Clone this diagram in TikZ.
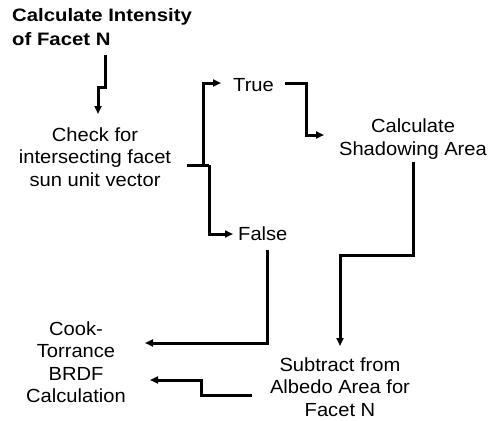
\documentclass[tikz,border=0pt]{standalone}
\usepackage{fontspec}
\setmainfont{Liberation Sans}[FakeStretch=1.06]
\newfontfamily\ttlfont{Liberation Sans}[FakeStretch=1.13]
\usetikzlibrary{arrows.meta}
\tikzset{
  lbl/.style={inner sep=0pt, align=center, font=\fontsize{19}{22.5}\selectfont},
  ttl/.style={inner sep=0pt, align=left, font=\ttlfont\fontsize{18}{24}\selectfont\bfseries},
  wire/.style={line width=3pt, line join=miter, line cap=butt},
  arr/.style={wire, -{Triangle[length=8pt,width=7pt]}},
}
\begin{document}
\begin{tikzpicture}[x=1pt,y=-1pt]
\useasboundingbox (0,0) rectangle (491,421);
\node[ttl, anchor=north west] (title) at (12,8) {Calculate Intensity\\of Facet N};
\node[lbl] (check) at (95,157) {Check for\\intersecting facet\\sun unit vector};
\node[lbl, anchor=west] (true) at (233,85) {True};
\node[lbl, anchor=west] (false) at (238,234) {False};
\node[lbl] (shadow) at (413,139) {Calculate\\Shadowing Area};
\node[lbl] (subtract) at (340,387) {Subtract from\\Albedo Area for\\Facet N};
\node[lbl] (cook) at (76,362) {Cook-\\Torrance\\BRDF\\Calculation};
% named corner points
\coordinate (t1) at (105,55);
\coordinate (b0) at (187,165);
\coordinate (b1) at (209,165);
\coordinate (f1) at (267,250);
\coordinate (s1) at (413,162);
\coordinate (u1) at (252,395);
% connectors
\draw[arr] (t1) -- (105,87) -- (98,87) -- (98,114);
\draw[wire] (b0) -- (b1);
\draw[arr] (203,165) -- (203,83) -- (221,83);
\draw[arr] (b1) -- (209,234) -- (233,234);
\draw[arr] (285,83) -- (306,83) -- (306,135) -- (324,135);
\draw[arr] (s1) -- (413,255) -- (340,255) -- (340,346);
\draw[arr] (f1) -- (267,343) -- (145,343);
\draw[arr] (u1) -- (201,395) -- (201,380) -- (150,380);
\end{tikzpicture}
\end{document}
